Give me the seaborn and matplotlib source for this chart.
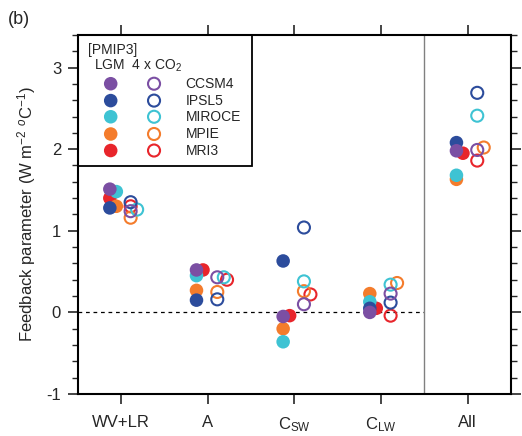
import numpy as np
import pandas as pd
import matplotlib
matplotlib.use("Agg")
import matplotlib.pyplot as plt
import matplotlib.ticker as mticker
import seaborn as sns

# -----------------------------------------------------------------------------
# Data
# -----------------------------------------------------------------------------
categories = ["WV+LR", "A", "C$_\\mathrm{SW}$", "C$_\\mathrm{LW}$", "All"]
models = ["CCSM4", "IPSL5", "MIROCE", "MPIE", "MRI3"]

# LGM (filled), one list per model, order as categories
lgm_ccsm4 = [1.51, 0.52, -0.05, 0.00, 1.98]
lgm_ipsl5 = [1.28, 0.15, 0.63, 0.05, 2.08]
lgm_miroce = [1.48, 0.45, -0.36, 0.13, 1.68]
lgm_mpie = [1.30, 0.27, -0.20, 0.23, 1.63]
lgm_mri3 = [1.40, 0.52, -0.04, 0.05, 1.95]

# 4 x CO2 (open)
co2_ccsm4 = [1.24, 0.43, 0.10, 0.23, 1.99]
co2_ipsl5 = [1.35, 0.16, 1.04, 0.12, 2.69]
co2_miroce = [1.26, 0.43, 0.38, 0.34, 2.41]
co2_mpie = [1.16, 0.25, 0.26, 0.36, 2.02]
co2_mri3 = [1.30, 0.40, 0.22, -0.04, 1.86]

colors = {"CCSM4": "#7b4fa3", "IPSL5": "#2c4c9c", "MIROCE": "#3ec3d3",
          "MPIE": "#f47c2c", "MRI3": "#e8252b"}

# -----------------------------------------------------------------------------
# Plotting attributes
# -----------------------------------------------------------------------------
sns.set_theme(style="ticks")
plt.rcParams["font.family"] = ["Liberation Sans", "DejaVu Sans"]
plt.rcParams["mathtext.fontset"] = "custom"
plt.rcParams["mathtext.rm"] = "Liberation Sans"
plt.rcParams["mathtext.it"] = "Liberation Sans:italic"
plt.rcParams["axes.unicode_minus"] = False

dpi = 100
fs = 12


def build(vals, base, thresh=0.045, step=0.075):
    # simple dodge: move a point right when it sits on top of another one
    rows = []
    for i, cat in enumerate(categories):
        placed = []
        for m, v in zip(models, vals):
            col = 0
            while any(abs(v[i] - pv) < thresh and pc == col for pv, pc in placed):
                col += 1
            placed.append((v[i], col))
            rows.append({"model": m, "x": i + 1 + base + min(col, 1.5) * step,
                         "value": v[i]})
    df = pd.DataFrame(rows)
    # draw CCSM4 last so it sits on top
    df["order"] = df["model"].map({m: k for k, m in enumerate(models)})
    return df.sort_values("order", ascending=False, kind="stable")


df_lgm = build([lgm_ccsm4, lgm_ipsl5, lgm_miroce, lgm_mpie, lgm_mri3], -0.13)
df_co2 = build([co2_ccsm4, co2_ipsl5, co2_miroce, co2_mpie, co2_mri3], 0.11)

# -----------------------------------------------------------------------------
# Plot
# -----------------------------------------------------------------------------
fig = plt.figure(figsize=(5.22, 4.36), dpi=dpi)
ax = fig.add_axes([0.149, 0.0963, 0.830, 0.8237])

ax.plot([0.5, 4.5], [0, 0], color="black", lw=0.9, ls=(0, (3, 3)), zorder=1)
ax.axvline(4.5, color="#808080", lw=1.0, zorder=1)

sns.scatterplot(data=df_lgm, x="x", y="value", hue="model", palette=colors,
                s=95, edgecolor="none", linewidth=0, legend=False, ax=ax, zorder=3)
sns.scatterplot(data=df_co2, x="x", y="value", hue="model", palette=colors,
                s=75, linewidth=1.5, legend=False, ax=ax, zorder=3)
pc = ax.collections[-1]
ec = pc.get_facecolors()
pc.set_facecolor("none")
pc.set_edgecolor(ec)

ax.set_xlim(0.5, 5.5)
ax.set_ylim(-1, 3.4)
ax.set_xticks(range(1, 6))
ax.set_xticklabels(categories, fontsize=fs)
ax.yaxis.set_major_locator(mticker.MultipleLocator(1))
ax.yaxis.set_minor_locator(mticker.MultipleLocator(0.2))
ax.tick_params(axis="both", which="major", direction="out", length=7, width=1.2,
               labelsize=fs, top=True, right=True, pad=5)
ax.tick_params(axis="y", which="minor", direction="out", length=4, width=1.0, right=True)
ax.tick_params(axis="x", which="major", pad=8)
ax.set(xlabel=None)
ax.set_ylabel("Feedback parameter (W m$^{-2}$ $^{o}$C$^{-1}$)", fontsize=fs, labelpad=6)
for sp in ax.spines.values():
    sp.set_linewidth(1.5)
    sp.set_color("black")

# Legend box
ax.add_patch(plt.Rectangle((0, 0.635), 0.402, 0.365, transform=ax.transAxes,
                           fill=False, edgecolor="black", lw=1.3, zorder=5))
ax.text(0.023, 0.958, "[PMIP3]", transform=ax.transAxes, fontsize=10,
        ha="left", va="center")
ax.text(0.038, 0.914, "LGM  4 x CO$_2$", transform=ax.transAxes, fontsize=10,
        ha="left", va="center")
rows_y = [0.864, 0.817, 0.772, 0.724, 0.678]
for m, yy in zip(models, rows_y):
    ax.scatter(0.076, yy, s=95, color=colors[m], edgecolor="none",
               transform=ax.transAxes, zorder=6, clip_on=False)
    ax.scatter(0.176, yy, s=75, facecolor="none", edgecolor=colors[m], lw=1.5,
               transform=ax.transAxes, zorder=6, clip_on=False)
    ax.text(0.249, yy, m, transform=ax.transAxes, fontsize=10,
            ha="left", va="center")

fig.text(0.015, 0.955, "(b)", fontsize=13, ha="left", va="center")

plt.savefig("out.png", dpi=dpi)
